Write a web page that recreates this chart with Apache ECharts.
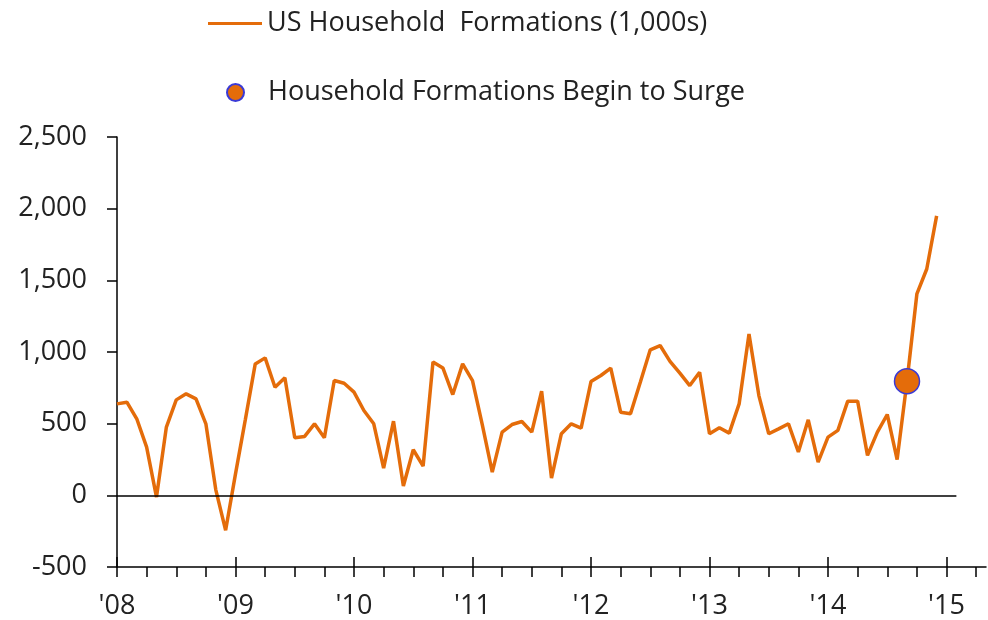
<!DOCTYPE html>
<html>
<head>
<meta charset="utf-8">
<title>US Household Formations</title>
<script src="https://cdn.jsdelivr.net/npm/echarts@6/dist/echarts.min.js"></script>
<style>
  html, body { margin: 0; padding: 0; background: #fff; }
  #chart { width: 988px; height: 620px; }
</style>
</head>
<body>
<div id="chart"></div>
<script>
// year tick labels, one per January
const yearLabels = ["'08", "'09", "'10", "'11", "'12", "'13", "'14", "'15"]
// monthly household formations, Jan 2008 .. Dec 2014 (1,000s)
const households = [
  638, 650, 534, 336, -12, 476, 666, 708, 673, 499, 40, -244,
  150, 530, 917, 959, 754, 820, 402, 411, 499, 402, 801, 782,
  720, 592, 499, 190, 517, 65, 318, 204, 931, 889, 703, 917,
  801, 490, 162, 441, 494, 515, 441, 726, 120, 430, 499, 469,
  794, 836, 887, 580, 569, 790, 1015, 1045, 935, 852, 766, 859,
  430, 471, 434, 638, 1126, 696, 430, 464, 499, 302, 527, 232,
  406, 453, 657, 657, 279, 441, 564, 249, 796, 1405, 1579, 1950,
]
const surgeIndex = 80 // Sep '14
const yTicks = [-500, 0, 500, 1000, 1500, 2000, 2500]

const ORANGE = '#E46C0A'
const TEXT = '#222'
const FONT = 'Open Sans'

// month categories: label only on January, axis runs a bit past Jan '15
const months = []
yearLabels.forEach((y) => {
  for (let m = 0; m < 12; m++) months.push(m === 0 ? y : '')
})
const categories = months.slice(0, 89)

const chart = echarts.init(document.getElementById('chart'), null, { renderer: 'canvas' })

chart.setOption({
  animation: false,
  grid: { left: 117, right: 2, top: 137, height: 430 },
  legend: [
    {
      data: [{ name: 'US Household  Formations (1,000s)', icon: 'rect' }],
      left: 203, top: 5,
      itemWidth: 54, itemHeight: 3,
      textStyle: { fontFamily: FONT, fontSize: 27, color: TEXT },
    },
    {
      data: ['Household Formations Begin to Surge'],
      left: 221, top: 74,
      itemWidth: 17, itemHeight: 17,
      textStyle: { fontFamily: FONT, fontSize: 27, color: TEXT, padding: [0, 0, 0, 19] },
    },
  ],
  xAxis: [
    {
      type: 'category',
      data: categories,
      boundaryGap: false,
      position: 'bottom',
      axisLine: { onZero: false, lineStyle: { color: '#000', width: 1.5 } },
      axisTick: { interval: 2, length: 10, lineStyle: { color: '#000', width: 1.5 } },
      axisLabel: {
        interval: 11, margin: 26,
        fontFamily: FONT, fontSize: 27, color: TEXT,
      },
      splitLine: { show: false },
    },
    {
      type: 'category',
      data: categories,
      boundaryGap: false,
      position: 'bottom',
      axisLine: { show: false, onZero: false },
      axisTick: { interval: 11, inside: true, length: 10, lineStyle: { color: '#000', width: 1.5 } },
      axisLabel: { show: false },
      splitLine: { show: false },
    },
  ],
  yAxis: {
    type: 'value',
    min: yTicks[0],
    max: yTicks[yTicks.length - 1],
    interval: 500,
    axisLine: { show: true, lineStyle: { color: '#000', width: 1.5 } },
    axisTick: { show: true, length: 10, lineStyle: { color: '#000', width: 1.5 } },
    axisLabel: {
      margin: 30, fontFamily: FONT, fontSize: 27, color: TEXT,
      formatter: (v) => v.toLocaleString('en-US'),
    },
    splitLine: { show: false },
  },
  series: [
    {
      name: 'US Household  Formations (1,000s)',
      type: 'line',
      data: households,
      symbol: 'none',
      lineStyle: { color: ORANGE, width: 3.5 },
      itemStyle: { color: ORANGE },
      markLine: {
        silent: true,
        symbol: 'none',
        label: { show: false },
        lineStyle: { color: '#000', width: 1.5, type: 'solid' },
        data: [[{ coord: [0, 0] }, { coord: [84.7, 0] }]],
      },
      z: 3,
    },
    {
      name: 'Household Formations Begin to Surge',
      type: 'scatter',
      data: [[surgeIndex, households[surgeIndex]]],
      symbolSize: 25,
      itemStyle: { color: ORANGE, borderColor: '#3A3AD6', borderWidth: 1.5, opacity: 1 },
      z: 4,
    },
  ],
})
</script>
</body>
</html>
